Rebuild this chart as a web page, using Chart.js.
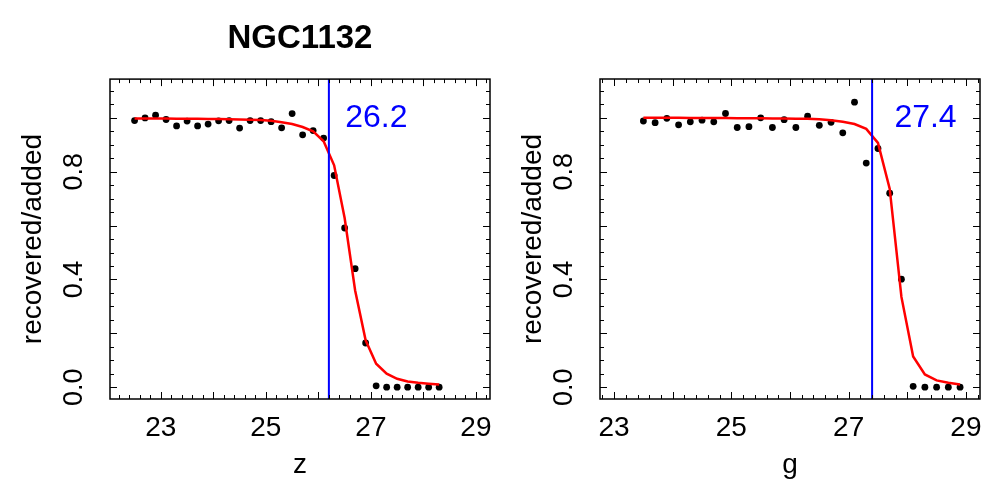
<!DOCTYPE html>
<html>
<head>
<meta charset="utf-8">
<script src="https://cdn.jsdelivr.net/npm/chart.js@4"></script>
<style>
  html, body { margin: 0; padding: 0; background: #fff; }
  #wrap { position: relative; width: 1000px; height: 500px; }
  canvas { position: absolute; top: 0; }
  #chartZ { left: 0; }
  #chartG { left: 500px; }
</style>
</head>
<body>
<div id="wrap">
  <canvas id="chartZ" width="500" height="500"></canvas>
  <canvas id="chartG" width="500" height="500"></canvas>
</div>
<script>
// z band
const zMag = [22.5, 22.7, 22.9, 23.1, 23.3, 23.5, 23.7, 23.9, 24.1, 24.3,
  24.5, 24.7, 24.9, 25.1, 25.3, 25.5, 25.7, 25.9, 26.1, 26.3,
  26.5, 26.7, 26.9, 27.1, 27.3, 27.5, 27.7, 27.9, 28.1, 28.3];
const zRecovered = [0.990, 1.000, 1.010, 0.994, 0.970, 0.988, 0.970, 0.977, 0.989, 0.990,
  0.962, 0.990, 0.990, 0.986, 0.963, 1.016, 0.937, 0.953, 0.925, 0.786,
  0.591, 0.440, 0.164, 0.005, 0.0, 0.0, 0.0, 0.0, 0.0, 0.0];
const zFit = [0.998, 0.998, 0.998, 0.998, 0.997, 0.997, 0.997, 0.996, 0.996, 0.995,
  0.994, 0.993, 0.992, 0.989, 0.984, 0.977, 0.966, 0.950, 0.913, 0.824,
  0.628, 0.359, 0.174, 0.087, 0.050, 0.031, 0.021, 0.016, 0.013, 0.010];
const zCut = 26.2;

// g band
const gMag = [23.5, 23.7, 23.9, 24.1, 24.3, 24.5, 24.7, 24.9, 25.1, 25.3,
  25.5, 25.7, 25.9, 26.1, 26.3, 26.5, 26.7, 26.9, 27.1, 27.3,
  27.5, 27.7, 27.9, 28.1, 28.3, 28.5, 28.7, 28.9];
const gRecovered = [0.988, 0.982, 0.998, 0.974, 0.985, 0.991, 0.985, 1.016, 0.964, 0.967,
  1.000, 0.964, 0.993, 0.964, 1.006, 0.972, 0.983, 0.944, 1.058, 0.832,
  0.886, 0.720, 0.401, 0.003, 0.0, 0.0, 0.0, 0.0];
const gFit = [1.000, 1.000, 1.000, 1.000, 0.999, 0.999, 0.999, 0.999, 0.998, 0.998,
  0.998, 0.997, 0.997, 0.996, 0.996, 0.995, 0.991, 0.985, 0.977, 0.959,
  0.907, 0.737, 0.335, 0.114, 0.047, 0.025, 0.016, 0.010];
const gCut = 27.4;

const X_TICKS = [23, 25, 27, 29];
const Y_TICKS = [0, 0.4, 0.8];
const Y_MIN = -0.044;
const Y_MAX = 1.144;
const FONT = "'Liberation Sans', Arial, Helvetica, sans-serif";

Chart.defaults.font.family = FONT;
Chart.defaults.color = "#000";

// R-style box with inward ticks, plus the blue cut label
const framePlugin = {
  id: "frame",
  afterDatasetsDraw(chart, args, opts) {
    const { ctx, chartArea: a } = chart;
    const x = chart.scales.x;
    const y = chart.scales.y;
    ctx.save();
    ctx.strokeStyle = "#000";
    ctx.lineWidth = 1;
    ctx.beginPath();
    for (let k = Math.ceil(x.min * 5); k <= Math.floor(x.max * 5); k++) {
      const len = k % 5 === 0 ? 7 : 4;
      const px = Math.round(x.getPixelForValue(k / 5)) + 0.5;
      ctx.moveTo(px, a.bottom);
      ctx.lineTo(px, a.bottom - len);
      ctx.moveTo(px, a.top);
      ctx.lineTo(px, a.top + len);
    }
    for (let k = Math.ceil(y.min * 20); k <= Math.floor(y.max * 20); k++) {
      const len = k % 4 === 0 ? 7 : 4;
      const py = Math.round(y.getPixelForValue(k / 20)) + 0.5;
      ctx.moveTo(a.left, py);
      ctx.lineTo(a.left + len, py);
      ctx.moveTo(a.right, py);
      ctx.lineTo(a.right - len, py);
    }
    ctx.stroke();
    ctx.lineWidth = 1.5;
    ctx.strokeRect(a.left, a.top, a.right - a.left, a.bottom - a.top);

    ctx.fillStyle = "#0000ff";
    ctx.font = "32px " + FONT;
    ctx.textAlign = "left";
    ctx.textBaseline = "middle";
    ctx.fillText(opts.text, x.getPixelForValue(opts.x), y.getPixelForValue(1.0));
    ctx.restore();
  },
};

function _makePanel(canvasId, mags, recovered, fit, cut, labelX, xMin, xMax, xLabel, panel) {
  const points = mags.map((m, i) => ({ x: m, y: recovered[i] }));
  const curve = mags.map((m, i) => ({ x: m, y: fit[i] }));
  return new Chart(document.getElementById(canvasId), {
    type: "scatter",
    data: {
      datasets: [
        {
          data: [{ x: cut, y: Y_MIN }, { x: cut, y: Y_MAX }],
          showLine: true,
          borderColor: "#0000ff",
          borderWidth: 2,
          pointRadius: 0,
        },
        {
          data: curve,
          showLine: true,
          borderColor: "#ff0000",
          borderWidth: 2.5,
          pointRadius: 0,
          tension: 0,
        },
        {
          data: points,
          backgroundColor: "#000",
          borderWidth: 0,
          pointRadius: 3.4,
        },
      ],
    },
    options: {
      responsive: false,
      animation: false,
      devicePixelRatio: 1,
      layout: { padding: panel.padding },
      scales: {
        x: {
          type: "linear",
          min: xMin,
          max: xMax,
          grid: { display: false },
          border: { display: false },
          afterBuildTicks: (s) => {
            s.ticks = X_TICKS.map((v) => ({ value: v }));
          },
          afterFit: (s) => {
            s.height = 101;
          },
          ticks: {
            autoSkip: false,
            maxRotation: 0,
            padding: 4,
            font: { size: 28 },
            callback: (v) => String(v),
          },
          title: {
            display: true,
            text: xLabel,
            font: { size: 28 },
            padding: { top: 0, bottom: 18 },
          },
        },
        y: {
          type: "linear",
          min: Y_MIN,
          max: Y_MAX,
          grid: { display: false },
          border: { display: false },
          afterBuildTicks: (s) => {
            s.ticks = Y_TICKS.map((v) => ({ value: v }));
          },
          afterFit: (s) => {
            s.width = panel.yWidth;
          },
          ticks: {
            autoSkip: false,
            minRotation: 90,
            maxRotation: 90,
            crossAlign: "center",
            padding: 9,
            font: { size: 27 },
            callback: (v) => v.toFixed(1),
          },
          title: {
            display: true,
            text: "recovered/added",
            font: { size: 28 },
            padding: { top: 16, bottom: 0 },
          },
        },
      },
      plugins: {
        legend: { display: false },
        tooltip: { enabled: false },
        title: panel.title,
        frame: { text: cut.toFixed(1), x: labelX },
      },
    },
    plugins: [framePlugin],
  });
}

_makePanel("chartZ", zMag, zRecovered, zFit, zCut, 26.51, 22.032, 29.268, "z", {
  padding: { top: 0, right: 10, left: 0, bottom: 0 },
  yWidth: 110,
  title: {
    display: true,
    text: "NGC1132",
    fullSize: false,
    color: "#000",
    font: { size: 33, weight: "bold" },
    padding: { top: 19.5, bottom: 20 },
  },
});

_makePanel("chartG", gMag, gRecovered, gFit, gCut, 27.78, 22.76, 29.24, "g", {
  padding: { top: 79, right: 20, left: 0, bottom: 0 },
  yWidth: 100,
  title: { display: false },
});
</script>
</body>
</html>
